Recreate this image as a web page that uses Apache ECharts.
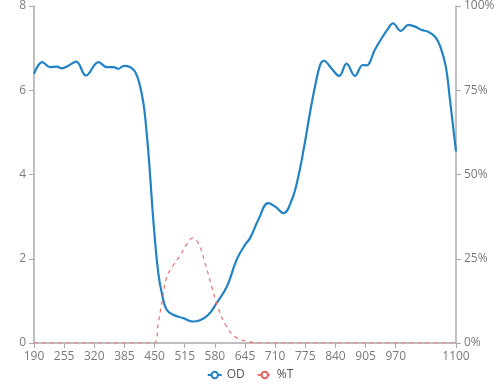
<!DOCTYPE html>
<html>
<head>
<meta charset="utf-8">
<script src="https://cdn.jsdelivr.net/npm/echarts@6/dist/echarts.min.js"></script>
<style>html,body{margin:0;padding:0;background:#fff}#c{width:500px;height:386px}</style>
</head>
<body>
<div id="c"></div>
<script>
const odWavelengths = [190,208,224,239,250,264,281,302,329,347,361,372,384,397,408,417,426,433,439,444,449,458,467,476,490,512,532,548,566,584,606,627,645,656,674,695,710,728,746,760,774,785,796,807,815,832,848,864,882,899,907,925,940,954,964,981,997,1012,1026,1040,1055,1066,1078,1087,1100];
const odValues = [6.39,6.67,6.55,6.56,6.52,6.58,6.68,6.35,6.67,6.55,6.55,6.51,6.58,6.55,6.44,6.17,5.69,4.98,4.19,3.40,2.69,1.66,1.11,0.79,0.67,0.59,0.51,0.54,0.67,0.95,1.34,1.98,2.33,2.49,2.93,3.32,3.24,3.08,3.40,3.95,4.75,5.46,6.09,6.60,6.70,6.51,6.34,6.63,6.34,6.60,6.59,6.96,7.24,7.47,7.59,7.41,7.55,7.51,7.43,7.39,7.27,7.04,6.56,5.77,4.55];
const tWavelengths = [190,255,320,385,449,458,467,476,490,505,520,532,544,559,573,587,605,624,649,680,750,850,950,1050,1100];
const tValues = [0,0,0,0,0,6,13,19.5,23,26,29.5,31.1,29.7,23.7,16.8,10.4,4.9,1.8,0.5,0,0,0,0,0,0];
const xTicks = [190,255,320,385,450,515,580,645,710,775,840,905,970,1100];
const seriesNames = ['OD','%T'];

const chart = echarts.init(document.getElementById('c'));
const axisColor = '#aaaaaa';
const labelColor = '#7a7a7a';
const font = 'Open Sans';
chart.setOption({
  animation: false,
  textStyle: {fontFamily: font},
  grid: {left: 34, right: 44, top: 6, bottom: 43},
  legend: {
    bottom: 0, left: 'center', itemWidth: 14, itemHeight: 8, itemGap: 12,
    textStyle: {color: '#555', fontSize: 12, fontFamily: font},
    data: seriesNames
  },
  xAxis: {
    type: 'value', min: 190, max: 1100,
    splitLine: {show: false},
    axisLine: {lineStyle: {color: axisColor, width: 1.5}},
    axisTick: {customValues: xTicks, lineStyle: {color: axisColor}},
    axisLabel: {customValues: xTicks, color: labelColor, fontSize: 12, fontFamily: font, formatter: v => String(v)}
  },
  yAxis: [{
    type: 'value', min: 0, max: 8, interval: 2,
    splitLine: {show: false},
    axisLine: {show: true, lineStyle: {color: axisColor, width: 1.5}},
    axisTick: {show: true, lineStyle: {color: axisColor}},
    axisLabel: {color: labelColor, fontSize: 12, fontFamily: font}
  }, {
    type: 'value', min: 0, max: 100, interval: 25, position: 'right',
    splitLine: {show: false},
    axisLine: {show: true, lineStyle: {color: axisColor, width: 1.5}},
    axisTick: {show: true, lineStyle: {color: axisColor}},
    axisLabel: {color: labelColor, fontSize: 12, fontFamily: font, formatter: '{value}%'}
  }],
  series: [{
    name: seriesNames[0], type: 'line', yAxisIndex: 0, smooth: 0.4,
    showSymbol: false, symbol: 'emptyCircle',
    color: '#2283c4',
    lineStyle: {width: 2.2, color: '#2283c4'},
    data: odWavelengths.map((w, i) => [w, odValues[i]])
  }, {
    name: seriesNames[1], type: 'line', yAxisIndex: 1, smooth: 0.4,
    showSymbol: false, symbol: 'emptyCircle',
    color: '#e8605f',
    lineStyle: {width: 1.2, type: [4, 4], color: '#ec7070'},
    data: tWavelengths.map((w, i) => [w, tValues[i]])
  }]
});
</script>
</body>
</html>
